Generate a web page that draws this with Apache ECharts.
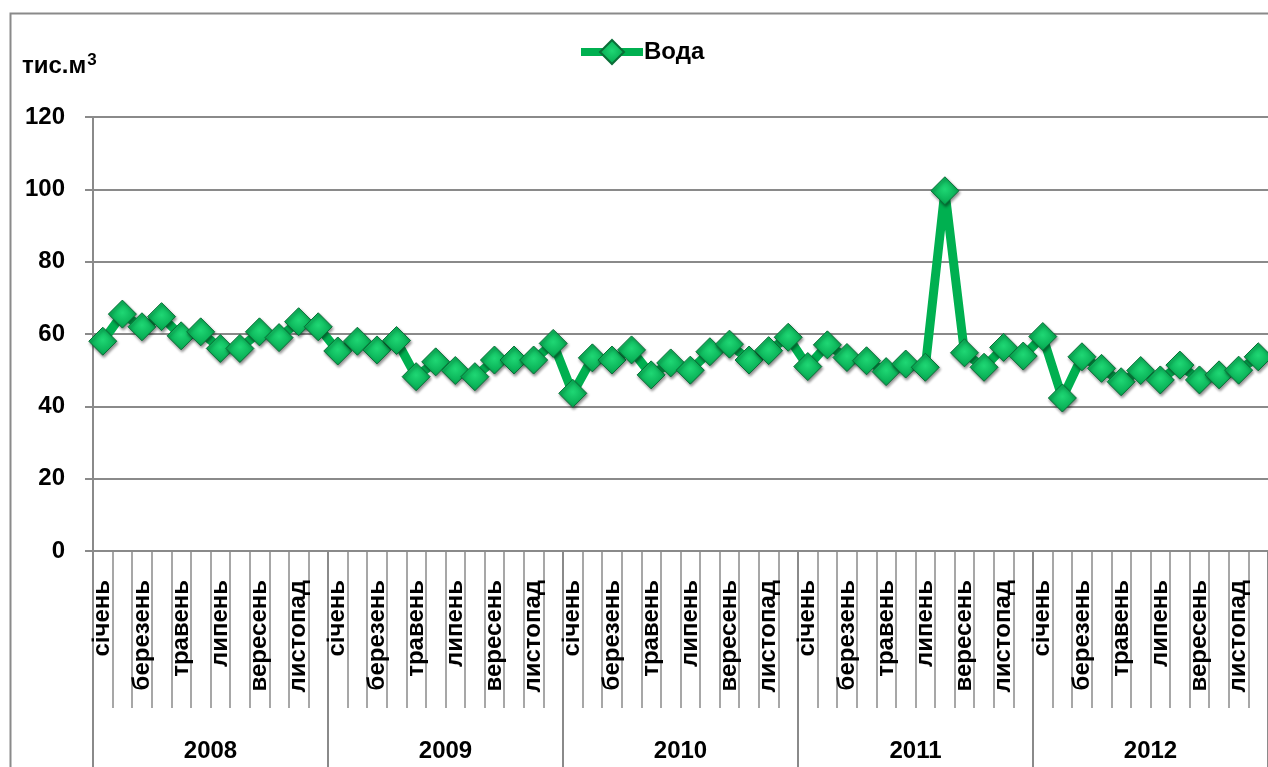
<!DOCTYPE html>
<html>
<head>
<meta charset="utf-8">
<script src="https://cdn.jsdelivr.net/npm/echarts@6/dist/echarts.min.js"></script>
<style>
  html, body { margin: 0; padding: 0; background: #fff; }
  #chart { width: 1268px; height: 767px; }
</style>
</head>
<body>
<div id="chart"></div>
<script>
const months = ['січень', 'лютий', 'березень', 'квітень', 'травень', 'червень',
  'липень', 'серпень', 'вересень', 'жовтень', 'листопад', 'грудень']
const years = ['2008', '2009', '2010', '2011', '2012']

// тис. м3 per month
const v2008 = [58, 65.5, 62, 64.8, 59.5, 60.6, 56, 56, 60.6, 59, 63.4, 62]
const v2009 = [55.3, 58, 55.6, 58.2, 48.2, 52.3, 49.9, 48.2, 52.8, 52.8, 52.8, 57.4]
const v2010 = [43.6, 53.4, 52.8, 55.6, 48.7, 52, 50, 55.1, 57.2, 52.8, 55.4, 59.1]
const v2011 = [51, 57, 53.5, 52.6, 49.6, 51.7, 50.8, 99.6, 54.8, 50.8, 56.3, 53.9]
const v2012 = [59.3, 42.3, 53.7, 50.5, 46.8, 49.9, 47.3, 51.4, 47.3, 48.7, 50, 53.7]

const water = [].concat(v2008, v2009, v2010, v2011, v2012)
const categories = []
years.forEach(y => months.forEach(m => categories.push(m + ' ' + y)))

const font = '"Liberation Sans", Arial, sans-serif'
const gray = '#8a8a8a'
const fs = 24

const chart = echarts.init(document.getElementById('chart'))
chart.setOption({
  animation: false,
  textStyle: { fontFamily: font },
  title: {
    text: 'тис.м{sup|3}',
    left: 17,
    top: 47,
    textStyle: {
      fontFamily: font,
      fontSize: fs,
      fontWeight: 'bold',
      color: '#000',
      lineHeight: 28,
      rich: {
        sup: { fontSize: 17, fontWeight: 'bold', color: '#000', fontFamily: font, verticalAlign: 'top', lineHeight: 17, padding: [0, 0, 10, 1] },
      },
    },
  },
  graphic: [
    {
      type: 'rect',
      left: 8,
      top: 11,
      shape: { width: 1300, height: 800 },
      style: { fill: 'none', stroke: gray, lineWidth: 2 },
      silent: true,
    },
  ],
  legend: {
    left: 572,
    top: 34,
    itemWidth: 62,
    itemHeight: 30,
    itemGap: 4,
    lineStyle: { width: 8 },
    textStyle: { fontFamily: font, fontSize: fs, fontWeight: 'bold', color: '#000', padding: [0, 0, 0, -4] },
    data: ['Вода'],
  },
  grid: {
    left: 93,
    top: 117,
    width: 1177,
    bottom: 216,
    containLabel: false,
  },
  xAxis: [
    {
      type: 'category',
      data: categories,
      boundaryGap: true,
      position: 'bottom',
      axisLine: { show: true, lineStyle: { color: gray, width: 2 } },
      axisTick: { show: true, interval: 0, length: 157, lineStyle: { color: gray, width: 1.5 } },
      axisLabel: {
        interval: 1,
        rotate: 90,
        margin: 29,
        fontFamily: font,
        fontSize: fs,
        fontWeight: 'bold',
        color: '#000',
        formatter: (v, i) => months[i % 12],
      },
      splitLine: { show: false },
    },
    {
      type: 'category',
      data: years,
      boundaryGap: true,
      position: 'bottom',
      axisLine: { show: false },
      axisTick: { show: true, interval: 0, length: 220, lineStyle: { color: gray, width: 2 } },
      axisLabel: {
        interval: 0,
        margin: 188,
        fontFamily: font,
        fontSize: fs,
        fontWeight: 'bold',
        color: '#000',
      },
      splitLine: { show: false },
    },
  ],
  yAxis: {
    type: 'value',
    min: 0,
    max: 120,
    interval: 20,
    axisLine: { show: true, lineStyle: { color: gray, width: 2 } },
    axisTick: { show: true, length: 8, lineStyle: { color: gray, width: 2 } },
    axisLabel: {
      margin: 28,
      fontFamily: font,
      fontSize: fs,
      fontWeight: 'bold',
      color: '#000',
    },
    splitLine: { show: true, lineStyle: { color: gray, width: 2 } },
  },
  series: [
    {
      name: 'Вода',
      type: 'line',
      xAxisIndex: 0,
      data: water,
      symbol: 'diamond',
      symbolSize: 28,
      showAllSymbol: true,
      lineStyle: { color: '#00b050', width: 9 },
      itemStyle: {
        color: {
          type: 'radial', x: 0.5, y: 0.45, r: 0.6,
          colorStops: [
            { offset: 0, color: '#1fd774' },
            { offset: 1, color: '#00a04a' },
          ],
        },
        borderColor: '#0a6e37',
        borderWidth: 1,
        shadowColor: 'rgba(0,0,0,0.45)',
        shadowBlur: 3,
        shadowOffsetX: 1,
        shadowOffsetY: 2,
      },
      emphasis: { disabled: true },
    },
  ],
})
</script>
</body>
</html>
